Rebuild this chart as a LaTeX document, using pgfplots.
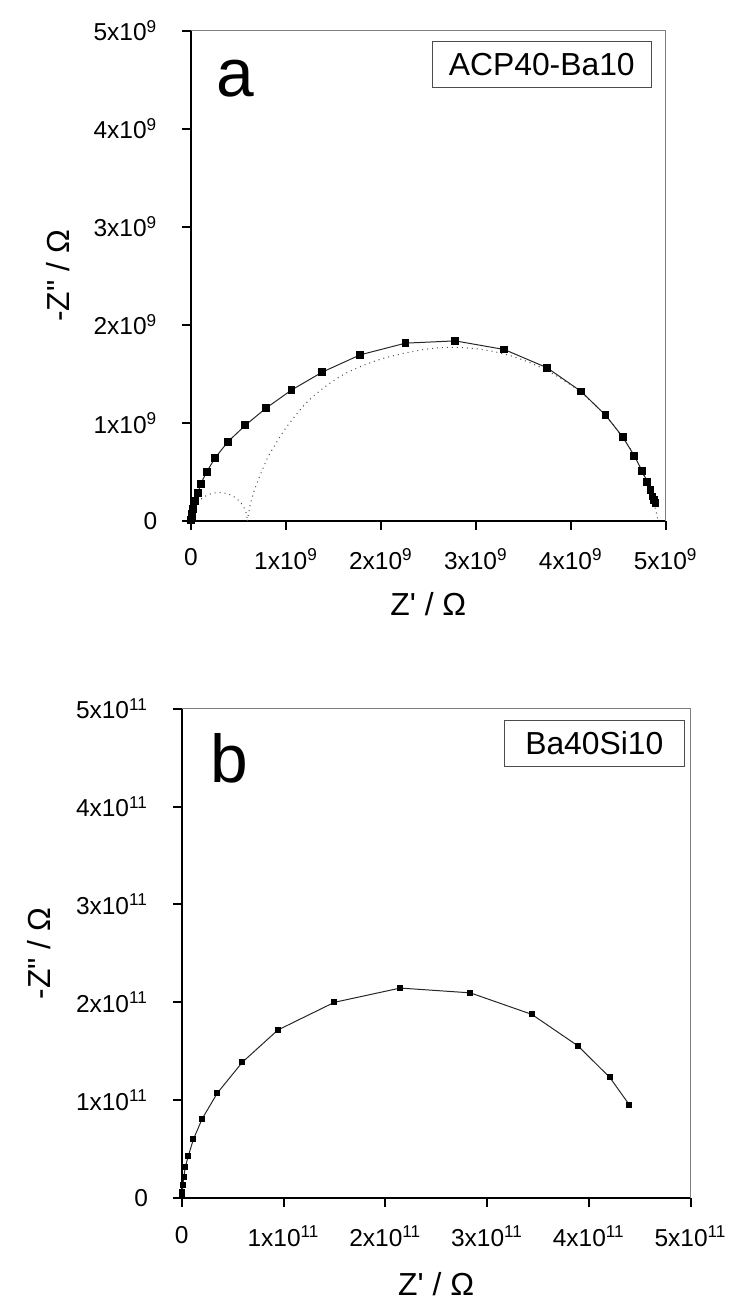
\documentclass[border=0pt]{standalone}
\usepackage{fontspec}
\setmainfont{Liberation Sans}
\usepackage{pgfplots}
\pgfplotsset{compat=1.18}

\pgfplotsset{
  eis/.style={
    scale only axis, clip=false,
    axis lines=left, axis line style={-, line width=1pt, black},
    tick align=outside, major tick length=4.5pt,
    every tick/.style={black, line width=1pt},
    scaled ticks=false,
    ticklabel style={font=\fontsize{12.3}{13}\selectfont},
    yticklabel style={xshift=-9pt},
    xticklabel style={yshift=-6pt},
    xmin=0, ymin=0,
  },
  datline/.style={line width=0.5pt, color=black!85, mark=square*,
    mark options={solid, fill=black, draw=black}},
  fitline/.style={line width=0.5pt, color=black!70, dotted, smooth},
}

\begin{document}
\begin{tikzpicture}
\path (0,0) rectangle (368pt,651pt);

% panel a
\begin{axis}[eis,
  at={(96pt,389.25pt)}, anchor=south west,
  width=238.5pt, height=246.35pt,
  xmax=5e9, ymax=5e9,
  xtick={0,1e9,2e9,3e9,4e9,5e9},
  ytick={0,1e9,2e9,3e9,4e9,5e9},
  xticklabels={0,1x10\textsuperscript{9},2x10\textsuperscript{9},3x10\textsuperscript{9},4x10\textsuperscript{9},5x10\textsuperscript{9}},
  yticklabels={0,1x10\textsuperscript{9},2x10\textsuperscript{9},3x10\textsuperscript{9},4x10\textsuperscript{9},5x10\textsuperscript{9}},
  xlabel={Z\textquotesingle\ / Ω},
  ylabel={-Z\textquotedbl\ / Ω},
  every axis x label/.style={at={(axis description cs:0.5,-0.17)}, anchor=center,
    font=\fontsize{16}{18}\selectfont},
  every axis y label/.style={at={(axis description cs:-0.28,0.5)}, rotate=90, anchor=center,
    font=\fontsize{16}{18}\selectfont},
]
\addplot[fitline] coordinates {
  (0,0) (0.010e9,0.075e9) (0.040e9,0.145e9) (0.087e9,0.205e9) (0.148e9,0.251e9)
  (0.220e9,0.280e9) (0.2965e9,0.29e9) (0.373e9,0.280e9) (0.445e9,0.251e9)
  (0.506e9,0.205e9) (0.553e9,0.145e9) (0.583e9,0.075e9) (0.593e9,0)
};
\addplot[fitline] coordinates {
  (0.593e9,0) (0.62e9,0.15e9) (0.65e9,0.26e9) (0.70e9,0.40e9) (0.80e9,0.63e9)
  (0.90e9,0.80e9) (1.0e9,0.95e9) (1.2e9,1.19e9) (1.4e9,1.36e9) (1.6e9,1.49e9)
  (1.8e9,1.58e9) (2.0e9,1.65e9) (2.2e9,1.70e9) (2.4e9,1.74e9) (2.6e9,1.765e9)
  (2.78e9,1.77e9) (3.0e9,1.756e9) (3.2e9,1.725e9) (3.4e9,1.674e9) (3.6e9,1.602e9)
  (3.8e9,1.507e9) (4.0e9,1.386e9) (4.2e9,1.232e9) (4.4e9,1.035e9) (4.6e9,0.776e9)
  (4.7e9,0.608e9) (4.8e9,0.396e9) (4.85e9,0.262e9) (4.9e9,0.089e9) (4.92e9,0)
};
\addplot[datline, mark size=1.7pt] coordinates {
  (0.002e9,0.01e9) (0.006e9,0.035e9) (0.012e9,0.07e9) (0.024e9,0.12e9)
  (0.042e9,0.205e9) (0.07e9,0.283e9) (0.104e9,0.38e9) (0.164e9,0.50e9)
  (0.254e9,0.643e9) (0.387e9,0.806e9) (0.571e9,0.975e9) (0.791e9,1.151e9)
  (1.059e9,1.335e9) (1.383e9,1.518e9) (1.783e9,1.694e9) (2.26e9,1.813e9)
  (2.783e9,1.836e9) (3.30e9,1.748e9) (3.75e9,1.562e9) (4.11e9,1.32e9)
  (4.365e9,1.08e9) (4.55e9,0.853e9) (4.67e9,0.663e9) (4.75e9,0.51e9)
  (4.807e9,0.40e9) (4.84e9,0.313e9) (4.86e9,0.25e9) (4.877e9,0.216e9)
  (4.893e9,0.18e9)
};
\draw[gray, line width=0.5pt] (rel axis cs:0,1) -- (rel axis cs:1,1) -- (rel axis cs:1,0);
\node[anchor=base west, inner sep=0, font=\fontsize{34}{34}\selectfont]
  at ([xshift=12.75pt,yshift=-33pt]rel axis cs:0,1) {a};
\node[anchor=north east, draw=black!70, line width=0.5pt, inner sep=0,
  minimum width=110pt, minimum height=23.5pt, font=\fontsize{16}{18}\selectfont]
  at ([xshift=-7pt,yshift=-5pt]rel axis cs:1,1) {ACP40-Ba10};
\end{axis}

% panel b
\begin{axis}[eis,
  at={(91.35pt,49pt)}, anchor=south west,
  width=255.65pt, height=245.85pt,
  xmax=5e11, ymax=5e11,
  xtick={0,1e11,2e11,3e11,4e11,5e11},
  ytick={0,1e11,2e11,3e11,4e11,5e11},
  xticklabels={0,1x10\textsuperscript{11},2x10\textsuperscript{11},3x10\textsuperscript{11},4x10\textsuperscript{11},5x10\textsuperscript{11}},
  yticklabels={0,1x10\textsuperscript{11},2x10\textsuperscript{11},3x10\textsuperscript{11},4x10\textsuperscript{11},5x10\textsuperscript{11}},
  xlabel={Z\textquotesingle\ / Ω},
  ylabel={-Z\textquotedbl\ / Ω},
  every axis x label/.style={at={(axis description cs:0.5,-0.175)}, anchor=center,
    font=\fontsize{16}{18}\selectfont},
  every axis y label/.style={at={(axis description cs:-0.28,0.5)}, rotate=90, anchor=center,
    font=\fontsize{16}{18}\selectfont},
]
\addplot[datline, mark size=1.25pt] coordinates {
  (0.002e11,0.02e11) (0.005e11,0.06e11) (0.01e11,0.13e11) (0.02e11,0.22e11)
  (0.035e11,0.32e11) (0.065e11,0.434e11) (0.114e11,0.60e11) (0.20e11,0.81e11)
  (0.35e11,1.074e11) (0.596e11,1.389e11) (0.944e11,1.717e11) (1.499e11,2.0e11)
  (2.147e11,2.146e11) (2.835e11,2.097e11) (3.44e11,1.877e11) (3.893e11,1.555e11)
  (4.206e11,1.233e11) (4.399e11,0.952e11)
};
\draw[gray, line width=0.5pt] (rel axis cs:0,1) -- (rel axis cs:1,1) -- (rel axis cs:1,0);
\node[anchor=base west, inner sep=0, font=\fontsize{34}{34}\selectfont]
  at ([xshift=14.3pt,yshift=-37.2pt]rel axis cs:0,1) {b};
\node[anchor=north east, draw=black!70, line width=0.5pt, inner sep=0,
  minimum width=90.5pt, minimum height=23.5pt, font=\fontsize{16}{18}\selectfont]
  at ([xshift=-2.85pt,yshift=-5.5pt]rel axis cs:1,1) {Ba40Si10};
\end{axis}
\end{tikzpicture}
\end{document}
